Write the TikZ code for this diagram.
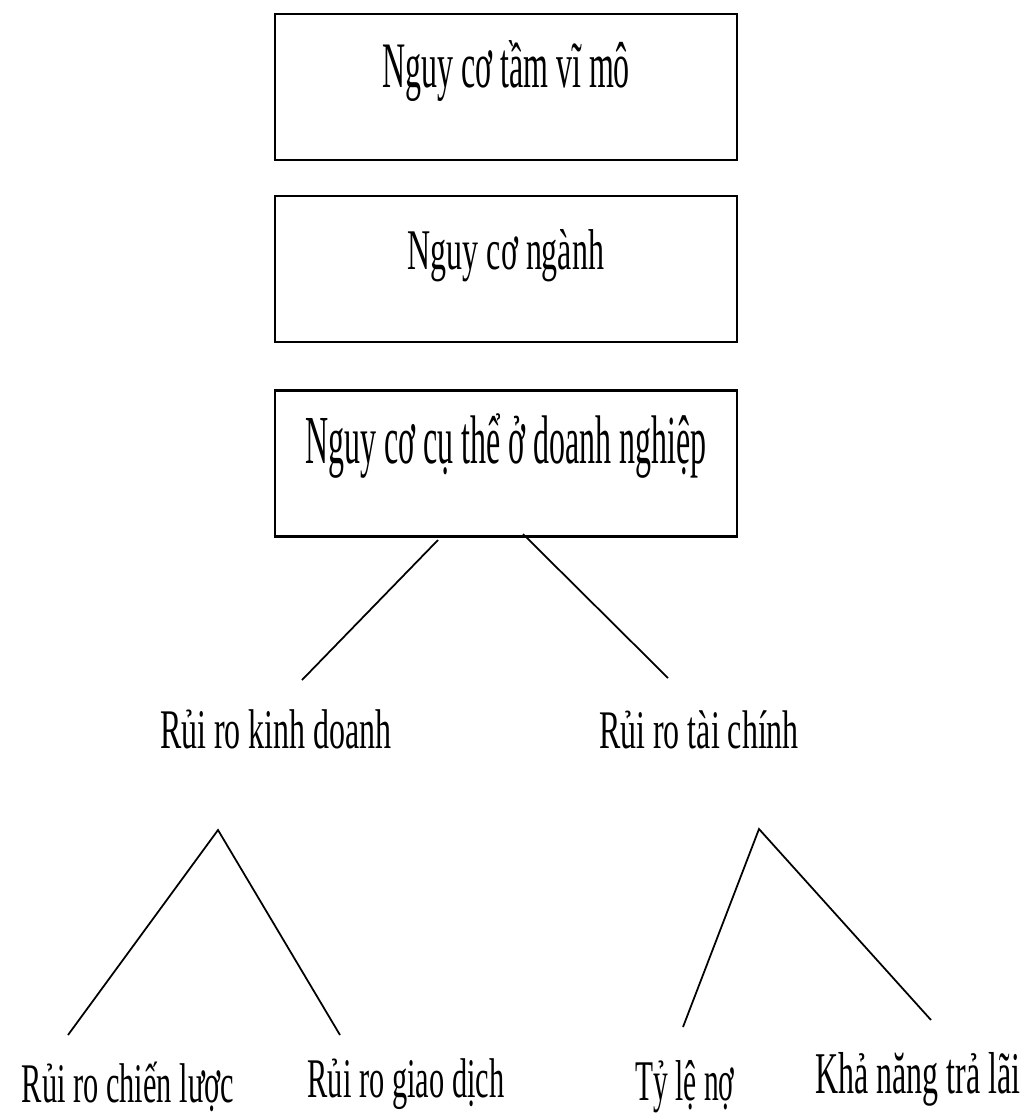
\documentclass[tikz,border=0pt]{standalone}
\usepackage{fontspec}
\setmainfont{Liberation Serif}
\usetikzlibrary{positioning}
\usetikzlibrary{calc}

\newcommand{\keo}[3]{\scalebox{#1}[#2]{#3}}

\begin{document}
\begin{tikzpicture}[x=0.02cm,y=-0.02cm,font=\fontsize{18.2}{22}\selectfont,line width=1pt]
        \tikzstyle{hop}=[draw, line width=1.3pt, minimum width=9.24cm, minimum height=2.92cm, inner sep=0pt, text height=1cm, text depth=1cm]
        \tikzstyle{nhan}=[inner sep=0pt, anchor=base]
        \useasboundingbox (0,0) rectangle (1022,1113);
        \node[hop] (vimo) at (506,87) {\keo{1}{2.03}{Nguy cơ tầm vĩ mô}};
        \node[hop, below=0.68cm of vimo] (nganh) {\keo{1}{1.8}{Nguy cơ ngành}};
        \node[hop, below=0.92cm of nganh] (doanhnghiep) {\keo{1}{2.15}{Nguy cơ cụ thể ở doanh nghiệp}};
        \node[nhan] (kinhdoanh) at (276,748) {\keo{1}{1.75}{Rủi ro kinh doanh}};
        \node[nhan] (taichinh) at (699,748) {\keo{1}{1.7}{Rủi ro tài chính}};
        \node[nhan] (chienluoc) at (128,1102) {\keo{0.95}{1.75}{Rủi ro chiến lược}};
        \node[nhan] (giaodich) at (406,1097) {\keo{0.95}{1.75}{Rủi ro giao dịch}};
        \node[nhan] (tyle) at (685,1100) {\keo{0.92}{1.8}{Tỷ lệ nợ}};
        \node[nhan] (tralai) at (918,1093) {\keo{1}{1.85}{Khả năng trả lãi}};
        % dau mut cac duong noi
        \coordinate (dn1) at (438,540);
        \coordinate (dn2) at (523,534);
        \coordinate (kd0) at (302,680);
        \coordinate (tc0) at (668,678);
        \coordinate (kdgoc) at (218,830);
        \coordinate (tcgoc) at (759,829);
        \coordinate (cl0) at (68,1035);
        \coordinate (gd0) at (340,1035);
        \coordinate (tl0) at (683,1027);
        \coordinate (lai0) at (931,1020);
        \draw (dn1) -- (kd0);
        \draw (dn2) -- (tc0);
        \draw (cl0) -- (kdgoc) -- (gd0);
        \draw (tl0) -- (tcgoc) -- (lai0);
      \end{tikzpicture}
\end{document}
